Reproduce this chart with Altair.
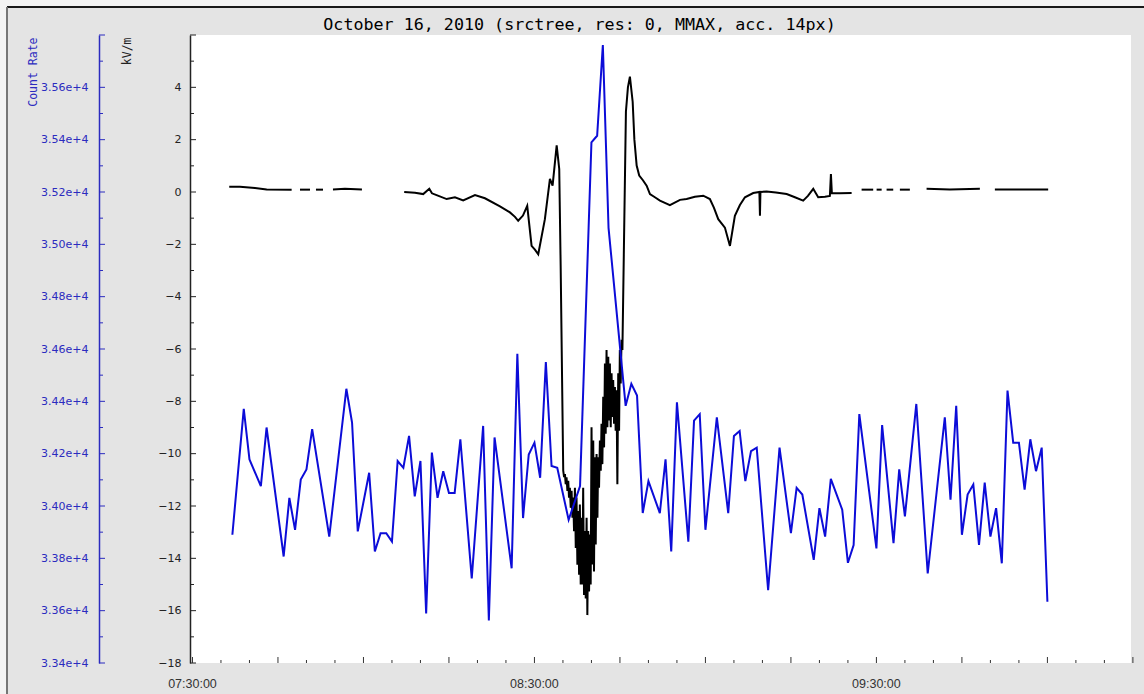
import altair as alt
import pandas as pd

TITLE = "October 16, 2010 (srctree, res: 0, MMAX, acc. 14px)"
DAY = "2010-10-16T"

# Count rate (blue), one value per minute
count_time = ["07:37", "07:39", "07:40", "07:42", "07:43", "07:46", "07:47", "07:48", "07:49", "07:50",
              "07:51", "07:54", "07:57", "07:58", "07:59", "08:01", "08:02", "08:03", "08:04", "08:05",
              "08:06", "08:07", "08:08", "08:09", "08:10", "08:11", "08:12", "08:13", "08:14", "08:15",
              "08:16", "08:17", "08:19", "08:21", "08:22", "08:23", "08:26", "08:27", "08:28", "08:29",
              "08:30", "08:31", "08:32", "08:33", "08:34", "08:36", "08:38", "08:40", "08:41", "08:42",
              "08:43", "08:46", "08:47", "08:48", "08:49", "08:50", "08:52", "08:53", "08:54", "08:55",
              "08:57", "08:58", "08:59", "09:00", "09:02", "09:04", "09:05", "09:06", "09:07", "09:08",
              "09:09", "09:11", "09:13", "09:15", "09:16", "09:17", "09:19", "09:20", "09:21", "09:22",
              "09:24", "09:25", "09:26", "09:27", "09:30", "09:31", "09:33", "09:34", "09:35", "09:37",
              "09:39", "09:42", "09:43", "09:44", "09:45", "09:46", "09:47", "09:48", "09:49", "09:50",
              "09:51", "09:52", "09:53", "09:54", "09:55", "09:56", "09:57", "09:58", "09:59", "10:00"]
count_rate = [33890, 34371, 34178, 34076, 34300, 33807, 34031, 33909, 34101, 34140,
              34294, 33883, 34448, 34319, 33903, 34127, 33826, 33896, 33896, 33864,
              34172, 34146, 34268, 34037, 34172, 33589, 34204, 34031, 34133, 34050,
              34050, 34255, 33723, 34306, 33563, 34262, 33762, 34582, 33954, 34197,
              34242, 34108, 34550, 34153, 34146, 33947, 34076, 35390, 35415, 35762,
              35063, 34383, 34467, 34422, 33973, 34095, 33973, 34178, 33826, 34396,
              33864, 34326, 34351, 33909, 34339, 33973, 34268, 34287, 34095, 34210,
              34223, 33678, 34223, 33896, 34069, 34044, 33794, 33992, 33883, 34104,
              33986, 33783, 33851, 34351, 33838, 34309, 33858, 34140, 33960, 34390,
              33742, 34339, 34024, 34383, 33890, 34044, 34082, 33851, 34089, 33883,
              33992, 33781, 34441, 34242, 34242, 34063, 34255, 34133, 34223, 33634]

# Electric field (black), kV/m; broken into segments where data are missing
field_time = [
    "07:36:27", "07:38:20", "07:40:58", "07:43:01", "07:47:24",
    "07:48:52", "07:50:37",
    "07:51:40", "07:52:54",
    "07:54:39", "07:56:45", "07:59:44",
    # main continuous record
    "08:07:09", "08:09:02", "08:10:29", "08:11:33", "08:12:01", "08:12:50", "08:14:36", "08:16:03",
    "08:17:30", "08:19:34", "08:21:19", "08:23:57", "08:25:42", "08:26:35", "08:27:09", "08:27:59",
    "08:28:44", "08:29:30", "08:30:05", "08:30:40", "08:31:50", "08:32:43", "08:33:11", "08:33:54",
    "08:34:21", "08:34:36",
    "08:35:03", "08:35:12", "08:35:21", "08:35:29", "08:35:38", "08:35:47", "08:35:56", "08:36:04",
    "08:36:13", "08:36:22", "08:36:31", "08:36:40", "08:36:48", "08:36:57", "08:37:06", "08:37:15",
    "08:37:23", "08:37:32", "08:37:41", "08:37:50", "08:37:58", "08:38:07", "08:38:16", "08:38:25",
    "08:38:33", "08:38:42", "08:38:51", "08:39:00", "08:39:09", "08:39:17", "08:39:26", "08:39:35",
    "08:39:44", "08:39:52", "08:40:01", "08:40:10", "08:40:19", "08:40:27", "08:40:36", "08:40:45",
    "08:40:54", "08:41:03", "08:41:11", "08:41:20", "08:41:29", "08:41:38", "08:41:46", "08:41:55",
    "08:42:04", "08:42:13", "08:42:22", "08:42:30", "08:42:39", "08:42:48", "08:42:57", "08:43:05",
    "08:43:14", "08:43:23", "08:43:32", "08:43:40", "08:43:49", "08:43:58", "08:44:07", "08:44:15",
    "08:44:24", "08:44:33", "08:44:42", "08:44:51", "08:44:59", "08:45:08", "08:45:17", "08:45:26",
    "08:46:03", "08:46:24",
    "08:46:45", "08:47:14", "08:47:32", "08:47:56", "08:48:23", "08:49:02", "08:49:41", "08:50:16",
    "08:51:08", "08:52:01", "08:53:46", "08:55:32", "08:56:42", "08:58:09", "08:59:37", "09:00:47",
    "09:01:29", "09:02:15", "09:03:25", "09:04:18", "09:05:10", "09:06:03", "09:06:56", "09:08:23",
    "09:09:28", "09:09:34", "09:09:39", "09:10:44", "09:12:22", "09:14:15", "09:15:42", "09:17:09",
    "09:17:59", "09:18:55", "09:19:47", "09:20:58", "09:21:50", "09:22:01", "09:22:11", "09:23:36",
    "09:25:39",
    # later, gappy record
    "09:27:24", "09:29:26",
    "09:30:02", "09:30:55",
    "09:31:47", "09:32:57",
    "09:34:07", "09:35:52",
    "09:38:48", "09:42:53", "09:48:09",
    "09:50:47", "10:00:08",
]
field_kvm = [
    0.2, 0.2, 0.15, 0.1, 0.09,
    0.09, 0.09,
    0.09, 0.09,
    0.1, 0.12, 0.1,
    0.0, -0.03, -0.08, 0.12, -0.05, -0.12, -0.27, -0.2,
    -0.32, -0.12, -0.24, -0.55, -0.78, -0.95, -1.1, -0.9,
    -0.53, -2.06, -2.2, -2.38, -1.04, 0.5, 0.24, 1.78,
    0.88, -2.83,
    -10.65, -10.9, -10.78, -11.17, -10.9, -11.42, -11.04, -11.68,
    -11.3, -12.07, -11.42, -12.45, -11.68, -12.96, -11.3, -13.6,
    -11.68, -14.24, -12.19, -14.63, -11.94, -15.0, -12.45, -15.0,
    -11.3, -15.4, -12.96, -15.53, -12.45, -16.17, -12.96, -15.27,
    -13.09, -15.0, -8.99, -14.24, -9.5, -14.5, -10.14, -13.47,
    -10.01, -12.45, -10.14, -11.3, -9.5, -10.65, -8.86, -10.4,
    -7.83, -9.76, -6.55, -9.24, -6.04, -8.99, -6.3, -8.73,
    -6.55, -8.99, -6.93, -8.6, -7.19, -8.86, -7.45, -9.12,
    -7.58, -11.17, -6.93, -9.12, -6.04, -7.32, -5.65, -6.04,
    3.07, 4.0,
    4.41, 3.45, 2.0, 1.01, 0.63, 0.45, 0.24, -0.08,
    -0.2, -0.33, -0.5, -0.3, -0.27, -0.18, -0.14, -0.27,
    -0.6, -1.04, -1.36, -2.06, -0.91, -0.5, -0.2, -0.04,
    0.0, -0.91, 0.0, 0.02, -0.02, -0.08, -0.2, -0.33,
    -0.15, 0.12, -0.2, -0.18, -0.15, 0.69, -0.05, -0.05,
    -0.04,
    0.09, 0.09,
    0.09, 0.09,
    0.09, 0.09,
    0.09, 0.09,
    0.12, 0.1, 0.12,
    0.1, 0.1,
]
field_segment_lengths = [5, 2, 2, 3, 141, 2, 2, 2, 2, 3, 2]

kvm_label_values = list(range(-18, 5, 2))
count_label_values = list(range(33400, 35601, 200))
x_label_times = ["07:30:00", "08:30:00", "09:30:00"]

W, H = 941, 628
PAD_L, PAD_T, PAD_R, PAD_B = 190, 35, 13, 31
BLUE = "#0c0cd8"
AXIS_BLUE = "#2b2bbf"
BG = "#e4e4e4"


def iso(t):
    return DAY + t + "Z"


def dt(h, m, s=0):
    return alt.DateTime(year=2010, month=10, date=16, hours=h, minutes=m, seconds=s, utc=True)


field_seg = []
for i, n in enumerate(field_segment_lengths):
    field_seg += [i] * n

count_df = pd.DataFrame({"t": [iso(t + ":00") for t in count_time], "rate": count_rate})
field_df = pd.DataFrame({"t": [iso(t) for t in field_time], "kvm": field_kvm, "seg": field_seg})
xlab_df = pd.DataFrame({"t": [iso(t) for t in x_label_times], "label": x_label_times})

xt_rows = []
for m in range(0, 166, 5):
    hh, mm = divmod(30 + m, 60)
    xt_rows.append({"t": iso(f"{7 + hh:02d}:{mm:02d}:00"), "major": m % 15 == 0})
xtick_df = pd.DataFrame(xt_rows)
ktick_df = pd.DataFrame({"v": list(range(-18, 7))})
ktick_df["major"] = ktick_df["v"] % 2 == 0
ctick_df = pd.DataFrame({"v": list(range(33400, 35801, 100))})
ctick_df["major"] = ctick_df["v"] % 200 == 0

xs = alt.Scale(type="utc", domain=[dt(7, 29, 34), dt(10, 14, 40)])
ys_k = alt.Scale(domain=[-18, 6], nice=False, zero=False)
ys_c = alt.Scale(domain=[33400, 35800], nice=False, zero=False)

x_axis = alt.Axis(
    labels=False, ticks=False, grid=False, domainColor="#3a3a3a", domainWidth=1.5, title=None,
)
k_axis = alt.Axis(
    orient="left", values=kvm_label_values, ticks=False, grid=False,
    domainColor="#222222", domainWidth=1.5, labelFont="DejaVu Sans", labelFontSize=11,
    labelColor="#222222", labelPadding=9,
    title="kV/m", titleFont="DejaVu Sans Mono", titleFontSize=11.5, titleFontWeight="normal",
    titleColor="#222222", titleAngle=270, titleAlign="right", titleBaseline="middle",
    titleX=-63, titleY=2,
)
c_axis = alt.Axis(
    orient="left", offset=91, values=count_label_values,
    labelExpr="format(datum.value, '.2e')", ticks=False, grid=False,
    domainColor=AXIS_BLUE, domainWidth=1.5, labelFont="DejaVu Sans", labelFontSize=11,
    labelColor=AXIS_BLUE, labelPadding=11,
    title="Count Rate", titleFont="DejaVu Sans Mono", titleFontSize=11.5, titleFontWeight="normal",
    titleColor=AXIS_BLUE, titleAngle=270, titleAlign="right", titleBaseline="middle",
    titleX=-66, titleY=2,
)

field_line = alt.Chart(field_df).mark_line(color="#000000", strokeWidth=2).encode(
    x=alt.X("t:T", scale=xs, axis=x_axis),
    y=alt.Y("kvm:Q", scale=ys_k, axis=k_axis),
    detail="seg:N",
)
count_line = alt.Chart(count_df).mark_line(color=BLUE, strokeWidth=2).encode(
    x=alt.X("t:T", scale=xs, axis=None),
    y=alt.Y("rate:Q", scale=ys_c, axis=c_axis),
)
k_major = alt.Chart(ktick_df).transform_filter("datum.major").mark_rule(color="#222222").encode(
    y=alt.Y("v:Q", scale=ys_k, axis=None), x=alt.value(0), x2=alt.value(6))
k_minor = alt.Chart(ktick_df).transform_filter("!datum.major").mark_rule(color="#222222").encode(
    y=alt.Y("v:Q", scale=ys_k, axis=None), x=alt.value(0), x2=alt.value(4))
c_major = alt.Chart(ctick_df).transform_filter("datum.major").mark_rule(color=AXIS_BLUE).encode(
    y=alt.Y("v:Q", scale=ys_c, axis=None), x=alt.value(-91), x2=alt.value(-85))
c_minor = alt.Chart(ctick_df).transform_filter("!datum.major").mark_rule(color=AXIS_BLUE).encode(
    y=alt.Y("v:Q", scale=ys_c, axis=None), x=alt.value(-91), x2=alt.value(-87))
x_major = alt.Chart(xtick_df).transform_filter("datum.major").mark_rule(color="#333333").encode(
    x=alt.X("t:T", scale=xs, axis=None), y=alt.value(H), y2=alt.value(H - 6))
x_minor = alt.Chart(xtick_df).transform_filter("!datum.major").mark_rule(color="#333333").encode(
    x=alt.X("t:T", scale=xs, axis=None), y=alt.value(H), y2=alt.value(H - 3))
x_labels = alt.Chart(xlab_df).mark_text(
    font="Liberation Sans", fontSize=12.5, color="#333333", baseline="middle", align="center",
).encode(
    x=alt.X("t:T", scale=xs, axis=None), y=alt.value(H + 21), text="label:N")

# window frame (light outer strip and dark border line)
frame_top_strip = alt.Chart(count_df).mark_rect(color="#f3f3f3").encode(
    x=alt.value(-PAD_L), x2=alt.value(W + PAD_R), y=alt.value(-PAD_T), y2=alt.value(-PAD_T + 7))
frame_left_strip = alt.Chart(count_df).mark_rect(color="#f3f3f3").encode(
    x=alt.value(-PAD_L), x2=alt.value(-PAD_L + 7), y=alt.value(-PAD_T), y2=alt.value(H + PAD_B))
frame_top_line = alt.Chart(count_df).mark_rule(color="#1a1a1a", strokeWidth=1.5).encode(
    x=alt.value(-PAD_L + 7), x2=alt.value(W + PAD_R), y=alt.value(-PAD_T + 7))
frame_left_line = alt.Chart(count_df).mark_rule(color="#777777", strokeWidth=1).encode(
    x=alt.value(-PAD_L + 7), y=alt.value(-PAD_T + 7), y2=alt.value(H + PAD_B))

chart = alt.layer(
    frame_top_strip, frame_left_strip, frame_top_line, frame_left_line,
    field_line, count_line, k_major, k_minor, c_major, c_minor, x_major, x_minor, x_labels
).resolve_scale(y="independent").properties(
    width=W, height=H,
    title=alt.TitleParams(
        TITLE, font="DejaVu Sans Mono", fontSize=16.7, fontWeight="normal", color="#000000",
        anchor="middle", dx=-81, offset=-33.5,
    ),
    padding={"left": PAD_L, "top": PAD_T, "right": PAD_R, "bottom": PAD_B},
    autosize=alt.AutoSizeParams(type="none"),
    background=BG,
).configure_view(fill="white", stroke=None)

chart.save("out.html", embed_options={"renderer": "svg", "actions": False})
